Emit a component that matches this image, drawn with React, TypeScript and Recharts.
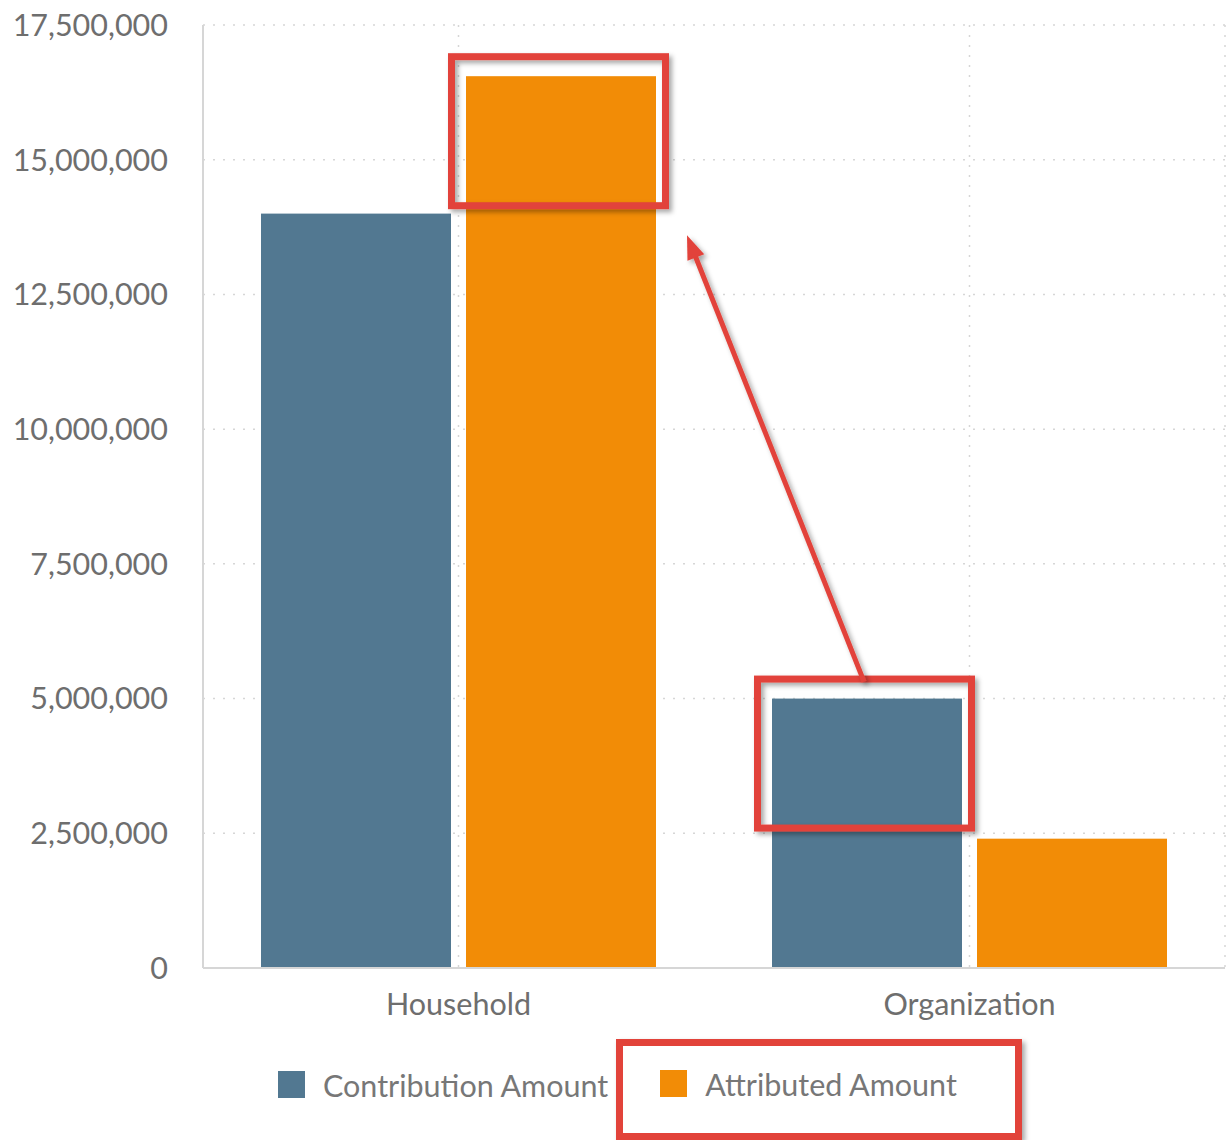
import React from 'react';
import { BarChart, Bar, XAxis, YAxis, CartesianGrid, Legend } from 'recharts';

// ---- data ----
const categories = ['Household', 'Organization'];
const contributionAmount = [14000000, 5000000];
const attributedAmount = [16550000, 2400000];
const yTicks = [0, 2500000, 5000000, 7500000, 10000000, 12500000, 15000000, 17500000];
const seriesNames = ['Contribution Amount', 'Attributed Amount'];
// annotation targets
const highlightAttributed = 'Household';
const highlightContribution = 'Organization';
const arrowTargetValue = 13600000;

const data = categories.map((c, i) => ({
  category: c,
  contribution: contributionAmount[i],
  attributed: attributedAmount[i],
}));

const BLUE = '#527891';
const ORANGE = '#f28c06';
const RED = '#e2433a';
const FONT = 'Lato, "Open Sans", sans-serif';
const TEXT = '#6e6e6e';

const fmt = (v: number) => v.toLocaleString('en-US');

const ShadowDefs = () => (
  <defs>
    <filter id="annShadow" x="-20%" y="-20%" width="140%" height="140%">
      <feDropShadow dx="3" dy="3" stdDeviation="2.5" floodColor="#000" floodOpacity="0.35" />
    </filter>
  </defs>
);

const HighlightBox = ({ x, y, width }: any) => (
  <rect
    x={x - 14.5}
    y={y - 19.5}
    width={width + 24}
    height={149}
    fill="none"
    stroke={RED}
    strokeWidth={7}
    filter="url(#annShadow)"
  />
);

const AttributedShape = (props: any) => {
  const { x, y, width, height, payload } = props;
  return (
    <g>
      <ShadowDefs />
      <rect x={x} y={y} width={width} height={height} fill={ORANGE} />
      {payload.category === highlightAttributed && <HighlightBox x={x} y={y} width={width} />}
    </g>
  );
};

const ContributionShape = (props: any) => {
  const { x, y, width, height, payload } = props;
  const isHl = payload.category === highlightContribution;
  let arrow = null;
  if (isHl) {
    const baseY = y + height;
    const pxPerUnit = height / payload.contribution;
    const sx = x + width / 2 - 3;
    const sy = y - 17;
    const tx = x - 85;
    const ty = baseY - arrowTargetValue * pxPerUnit;
    const dx = tx - sx;
    const dy = ty - sy;
    const len = Math.sqrt(dx * dx + dy * dy);
    const ux = dx / len;
    const uy = dy / len;
    const nx = -uy;
    const ny = ux;
    const L = 24;
    const W = 9;
    const bx = tx - ux * L;
    const by = ty - uy * L;
    arrow = (
      <g filter="url(#annShadow)">
        <line x1={sx} y1={sy} x2={tx - ux * L * 0.7} y2={ty - uy * L * 0.7} stroke={RED} strokeWidth={5} />
        <polygon
          points={`${tx},${ty} ${bx + nx * W},${by + ny * W} ${bx - nx * W},${by - ny * W}`}
          fill={RED}
        />
      </g>
    );
  }
  return (
    <g>
      <ShadowDefs />
      <rect x={x} y={y} width={width} height={height} fill={BLUE} />
      {isHl && <HighlightBox x={x} y={y} width={width} />}
      {arrow}
    </g>
  );
};

const renderLegend = () => (
  <div
    style={{
      display: 'flex',
      justifyContent: 'flex-start',
      alignItems: 'stretch',
      height: 101,
      paddingLeft: 278,
      fontFamily: FONT,
      fontSize: 30.5,
      color: '#777',
      boxSizing: 'border-box',
    }}
  >
    <div style={{ display: 'flex', alignItems: 'center', paddingBottom: 10, marginRight: 8 }}>
      <span style={{ width: 27, height: 27, background: BLUE, marginRight: 18, display: 'inline-block' }} />
      <span>{seriesNames[0]}</span>
    </div>
    <div
      style={{
        display: 'flex',
        alignItems: 'center',
        border: `7px solid ${RED}`,
        padding: '0 58px 12px 37px',
        boxSizing: 'border-box',
        boxShadow: '3px 3px 5px rgba(0,0,0,0.35)',
        height: 101,
      }}
    >
      <span style={{ width: 27, height: 27, background: ORANGE, marginRight: 18, display: 'inline-block' }} />
      <span>{seriesNames[1]}</span>
    </div>
  </div>
);

export default function App() {
  return (
    <div style={{ position: 'absolute', left: 0, top: 0, width: 1230, height: 1140, background: '#fff' }}>
      <BarChart
        width={1230}
        height={1140}
        data={data}
        margin={{ top: 25, right: 5, left: 0, bottom: 0 }}
        barSize={190}
        barGap={15}
      >
        <CartesianGrid stroke="#d6d6d6" strokeDasharray="2 8" strokeWidth={1.5} />
        <XAxis
          dataKey="category"
          height={71}
          tickSize={0}
          tickMargin={25}
          axisLine={{ stroke: '#d6d6d6', strokeWidth: 2 }}
          tick={{ fill: TEXT, fontSize: 30.5, fontFamily: FONT }}
        />
        <YAxis
          width={203}
          domain={[0, 17500000]}
          ticks={yTicks}
          tickFormatter={fmt}
          tickSize={0}
          tickMargin={35}
          axisLine={{ stroke: '#d6d6d6', strokeWidth: 2 }}
          tick={{ fill: TEXT, fontSize: 30.5, fontFamily: FONT }}
          interval={0}
        />
        <Legend verticalAlign="bottom" content={renderLegend} wrapperStyle={{ left: 0, width: 1230 }} />
        <Bar dataKey="contribution" name={seriesNames[0]} fill={BLUE} isAnimationActive={false} shape={ContributionShape} />
        <Bar dataKey="attributed" name={seriesNames[1]} fill={ORANGE} isAnimationActive={false} shape={AttributedShape} />
      </BarChart>
    </div>
  );
}
